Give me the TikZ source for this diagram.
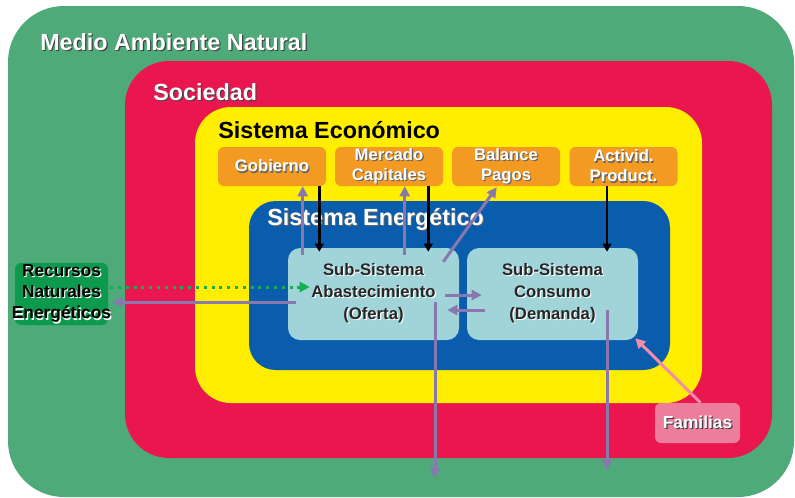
\documentclass[tikz,border=0pt]{standalone}
\usepackage{fontspec}
\setmainfont{Liberation Sans}
\usetikzlibrary{arrows.meta, calc, positioning}

\definecolor{ambgreen}{RGB}{78,170,120}
\definecolor{socred}{RGB}{233,22,80}
\definecolor{ecoyellow}{RGB}{255,238,0}
\definecolor{eneblue}{RGB}{10,93,173}
\definecolor{orgfill}{RGB}{243,154,34}
\definecolor{subfill}{RGB}{160,212,217}
\definecolor{recfill}{RGB}{14,154,78}
\definecolor{famfill}{RGB}{236,125,155}
\definecolor{arrpurple}{RGB}{136,120,174}
\definecolor{arrgreen}{RGB}{20,175,80}
\definecolor{arrpink}{RGB}{242,140,170}

% text with a small offset shadow
\newcommand{\shd}[2]{\leavevmode\rlap{\kern0.9pt\raisebox{-0.9pt}{\textcolor{#1}{#2}}}#2}

\begin{document}
\begin{tikzpicture}[x=0.75pt, y=-0.75pt,
  title/.style={anchor=base west, inner sep=0pt, font=\bfseries\fontsize{17.5}{20}\selectfont},
  orgbox/.style={fill=orgfill, rounded corners=4.5pt, minimum width=81pt, minimum height=29.25pt,
    inner sep=0pt, text=white, align=center, font=\bfseries\fontsize{12.5}{15}\selectfont},
  subbox/.style={fill=subfill, rounded corners=9pt, minimum width=128.25pt, minimum height=69pt,
    inner sep=0pt, text=black!85, align=center, font=\bfseries\fontsize{12.5}{16.5}\selectfont},
  recbox/.style={fill=recfill, rounded corners=4.5pt, minimum width=69.75pt, minimum height=46.5pt,
    inner sep=0pt, text=black, align=center, font=\bfseries\fontsize{13}{16}\selectfont},
  fambox/.style={fill=famfill, rounded corners=4.5pt, minimum width=63.75pt, minimum height=30pt,
    inner sep=0pt, text=white, font=\bfseries\fontsize{13}{15}\selectfont},
  parr/.style={draw=arrpurple, line width=2.25pt, -{Triangle[length=7.5pt,width=7.5pt]}},
  barr/.style={draw=black, line width=2pt, -{Triangle[length=6pt,width=6.5pt]}},
  garr/.style={draw=arrgreen, line width=2.25pt, dash pattern=on 2.25pt off 3.6pt,
    -{Triangle[length=7.5pt,width=7.5pt]}},
  pkarr/.style={draw=arrpink, line width=2.25pt, -{Triangle[length=7.5pt,width=7.5pt]}}
]
\useasboundingbox (0,0) rectangle (795,497);

% nested zones
\fill[ambgreen, rounded corners=42pt] (8,6) rectangle (794,497);
\fill[socred, rounded corners=33pt] (125,61) rectangle (772,458);
\fill[ecoyellow, rounded corners=27pt] (195,107) rectangle (702,403);
\fill[eneblue, rounded corners=20pt] (249,201) rectangle (670,370);

\node[title, text=white] (amb) at (40,50) {\shd{black!75}{Medio Ambiente Natural}};
\node[title, text=white] (soc) at (153,100) {\shd{black!75}{Sociedad}};
\node[title, text=black] (eco) at (218,138) {Sistema Económico};
\node[title, text=white] (ene) at (267,225) {\shd{black!60}{Sistema Energético}};

% economic actors
\node[orgbox] (gob) at (272,166.5) {\shd{black!60}{Gobierno}};
\node[orgbox] (merc) at (389,166.5) {\shd{black!60}{Mercado}\\\shd{black!60}{Capitales}};
\node[orgbox] (bal) at (506,166.5) {\shd{black!60}{Balance}\\\shd{black!60}{Pagos}};
\node[orgbox] (act) at (623.5,166.5) {\shd{black!60}{Activid.}\\\shd{black!60}{Product.}};

% energy sub-systems
\node[subbox] (abast) at (373.5,294) {\shd{white}{Sub-Sistema}\\\shd{white}{Abastecimiento}\\\shd{white}{(Oferta)}};
\node[subbox] (cons) at (552.5,294) {\shd{white}{Sub-Sistema}\\\shd{white}{Consumo}\\\shd{white}{(Demanda)}};

\node[recbox] (rec) at (61.5,294) {\makebox[0pt]{\shd{white}{Recursos}}\\\makebox[0pt]{\shd{white}{Naturales}}\\\makebox[0pt]{\shd{white}{Energéticos}}};
\node[fambox] (fam) at (697.5,423) {\shd{black!75}{Familias}};

% flows
\draw[parr] ($(abast.north west)+(15,7)$) coordinate (g1) -- (g1 |- gob.south);
\draw[barr] ($(gob.south east)+(-7,0)$) coordinate (g2) -- ($(g2 |- abast.north)+(0,4)$);
\draw[parr] ($(abast.north west)+(117,7)$) coordinate (m1) -- (m1 |- merc.south);
\draw[barr] ($(merc.south east)+(-15,0)$) coordinate (m2) -- ($(m2 |- abast.north)+(0,4)$);
\draw[parr] ($(abast.north east)+(-16,14)$) -- ($(bal.south west)+(45,1)$);
\draw[barr] ($(act.south)+(-16.5,0)$) coordinate (a1) -- ($(a1 |- cons.north)+(0,4)$);
\draw[parr] ($(abast.east)+(-14,1)$) -- ($(cons.west)+(15,1)$);
\draw[parr] ($(cons.west)+(18,16)$) -- ($(abast.east)+(-12,16)$);
\draw[garr] ($(rec.east)+(2,-7)$) -- ($(abast.west)+(22,-7)$);
\draw[parr] ($(abast.west)+(8,8)$) -- ($(rec.east)+(4,8)$);
\coordinate (outA) at (435,478);
\coordinate (outC) at (607,470);
\draw[parr] (outA |- abast.east) ++(0,8) -- (outA);
\draw[parr] (outC |- cons.east) ++(0,16) -- (outC);
\draw[pkarr] ($(fam.north)+(3,0)$) -- ($(cons.south east)+(-3,-2)$);
\end{tikzpicture}
\end{document}
